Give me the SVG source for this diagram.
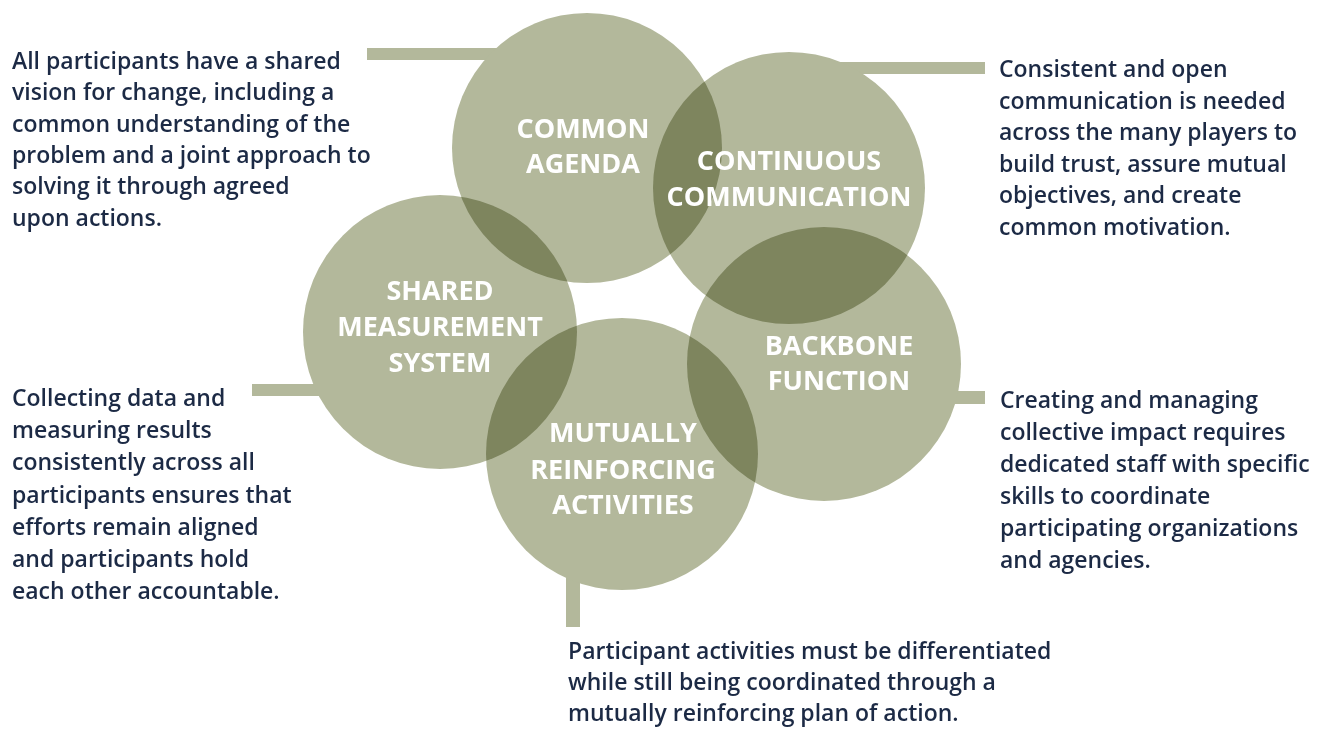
<svg xmlns="http://www.w3.org/2000/svg" width="1338" height="732" viewBox="0 0 1338 732">
<defs>
<style>
.bar{fill:#b3b89b}
.c{fill:#b3b89b;mix-blend-mode:multiply}
.lbl{font-family:"Open Sans","Liberation Sans",sans-serif;font-weight:700;font-size:27px;fill:#ffffff;text-anchor:middle}
.desc{font-family:"Open Sans","Liberation Sans",sans-serif;font-weight:600;font-size:23px;fill:#1c2a45}
</style>
</defs>
<rect width="1338" height="732" fill="#ffffff"/>
<g id="connectors">
<rect class="bar" x="367" y="48" width="135" height="12"/>
<rect class="bar" x="835" y="62" width="150" height="12"/>
<rect class="bar" x="252" y="384" width="70" height="12"/>
<rect class="bar" x="940" y="391" width="45" height="13"/>
<rect class="bar" x="566" y="570" width="14" height="57"/>
</g>
<g id="circles" style="isolation:isolate">
<circle id="common-agenda" class="c" cx="587" cy="148" r="135"/>
<circle id="continuous-communication" class="c" cx="789" cy="188" r="136"/>
<circle id="shared-measurement" class="c" cx="440" cy="332" r="137"/>
<circle id="backbone-function" class="c" cx="824" cy="364" r="137"/>
<circle id="mutually-reinforcing" class="c" cx="622" cy="454" r="136"/>
</g>
<g id="labels">
<text class="lbl" x="583" y="138">COMMON</text>
<text class="lbl" x="583" y="173">AGENDA</text>
<text class="lbl" x="789" y="170">CONTINUOUS</text>
<text class="lbl" x="789" y="206">COMMUNICATION</text>
<text class="lbl" x="440" y="300">SHARED</text>
<text class="lbl" x="440" y="336">MEASUREMENT</text>
<text class="lbl" x="440" y="372">SYSTEM</text>
<text class="lbl" x="839" y="355">BACKBONE</text>
<text class="lbl" x="839" y="390">FUNCTION</text>
<text class="lbl" x="623" y="442">MUTUALLY</text>
<text class="lbl" x="623" y="479">REINFORCING</text>
<text class="lbl" x="623" y="514">ACTIVITIES</text>
</g>
<g id="desc-common-agenda" class="desc">
<text x="12" y="69">All participants have a shared</text>
<text x="12" y="100">vision for change, including a</text>
<text x="12" y="132">common understanding of the</text>
<text x="12" y="163">problem and a joint approach to</text>
<text x="12" y="194">solving it through agreed</text>
<text x="12" y="226">upon actions.</text>
</g>
<g id="desc-continuous-communication" class="desc">
<text x="999" y="77">Consistent and open</text>
<text x="999" y="109">communication is needed</text>
<text x="999" y="140">across the many players to</text>
<text x="999" y="172">build trust, assure mutual</text>
<text x="999" y="203">objectives, and create</text>
<text x="999" y="235">common motivation.</text>
</g>
<g id="desc-shared-measurement" class="desc">
<text x="12" y="406">Collecting data and</text>
<text x="12" y="438">measuring results</text>
<text x="12" y="470">consistently across all</text>
<text x="12" y="503">participants ensures that</text>
<text x="12" y="535">efforts remain aligned</text>
<text x="12" y="567">and participants hold</text>
<text x="12" y="599">each other accountable.</text>
</g>
<g id="desc-backbone-function" class="desc">
<text x="1000" y="408">Creating and managing</text>
<text x="1000" y="440">collective impact requires</text>
<text x="1000" y="472">dedicated staff with specific</text>
<text x="1000" y="504">skills to coordinate</text>
<text x="1000" y="536">participating organizations</text>
<text x="1000" y="568">and agencies.</text>
</g>
<g id="desc-mutually-reinforcing" class="desc">
<text x="568" y="659">Participant activities must be differentiated</text>
<text x="568" y="690">while still being coordinated through a</text>
<text x="568" y="721">mutually reinforcing plan of action.</text>
</g>
</svg>
